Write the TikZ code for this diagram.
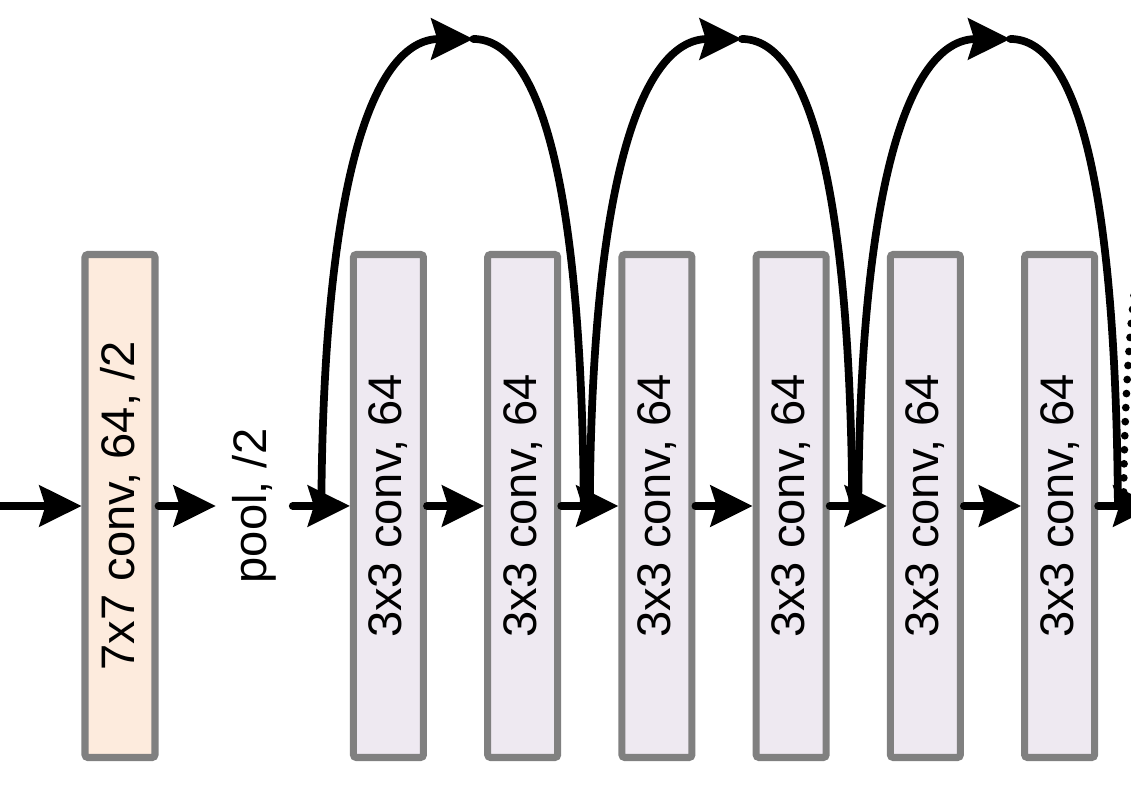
\documentclass[tikz,border=0pt]{standalone}
\usepackage{fontspec}
\setmainfont{Liberation Sans}
\usepackage{xcolor}
\usetikzlibrary{positioning,arrows.meta,calc}
\definecolor{peach}{HTML}{FDEBDD}
\definecolor{lilac}{HTML}{EEE9F1}
\definecolor{rim}{HTML}{808080}

\begin{document}
\begin{tikzpicture}[
  box/.style={draw=rim, line width=5pt, rounded corners=2pt, inner sep=0pt,
    minimum width=1.75cm, minimum height=12.575cm, font=\fontsize{33.5}{40}\selectfont},
  gap/.style={box, draw=none},
  arr/.style={-{Stealth[length=1.05cm, width=1.02cm, inset=0.15cm]}, line width=5.5pt, line cap=round},
  dotlink/.style={line width=5.5pt, line cap=round, dash pattern=on 0pt off 10pt},
  node distance=1.43cm]
\useasboundingbox (0,0) rectangle (28.275,19.95);
\clip (0,0) rectangle (28.275,19.95);
\node[box, fill=peach] (conv7) at (3.0,7.3) {\rotatebox{90}{7x7 conv, 64, /2}};
\node[gap, right=of conv7] (pool) {\rotatebox{90}{pool, /2}};
\node[box, fill=lilac, right=of pool] (b1) {\rotatebox{90}{3x3 conv, 64}};
\node[box, fill=lilac, right=of b1] (b2) {\rotatebox{90}{3x3 conv, 64}};
\node[box, fill=lilac, right=of b2] (b3) {\rotatebox{90}{3x3 conv, 64}};
\node[box, fill=lilac, right=of b3] (b4) {\rotatebox{90}{3x3 conv, 64}};
\node[box, fill=lilac, right=of b4] (b5) {\rotatebox{90}{3x3 conv, 64}};
\node[box, fill=lilac, right=of b5] (b6) {\rotatebox{90}{3x3 conv, 64}};
\coordinate[left=4cm of conv7] (in);
\coordinate[right=of b6] (out);
% shortcut junctions and tops
\coordinate (j0) at ($(pool.east)!0.5!(b1.west)$);
\coordinate (j2) at ($(b2.east)!0.5!(b3.west)$);
\coordinate (j4) at ($(b4.east)!0.5!(b5.west)$);
\coordinate (j6) at ($(b6.east)!0.5!(out)+(-0.08,0)$);
\coordinate (t1) at ($(j0)+(3.8,11.675)$);
\coordinate (t2) at ($(j2)+(3.8,11.675)$);
\coordinate (t3) at ($(j4)+(3.8,11.675)$);
\coordinate (t4) at ($(j6)+(3.8,11.675)$);
\coordinate (e1) at ($(j2)+(-0.15,0)$);
\coordinate (e2) at ($(j4)+(-0.15,0)$);
\coordinate (e3) at ($(j6)+(-0.14,0)$);
\draw[arr] (j0) .. controls +(0.05,8.175) and +(-2.5,0) .. (t1);
\draw[arr, -] (t1) .. controls +(1.75,0) and +(-0.05,7.675) .. (e1);
\draw[arr] (j2) .. controls +(0.05,8.175) and +(-2.5,0) .. (t2);
\draw[arr, -] (t2) .. controls +(1.75,0) and +(-0.05,7.675) .. (e2);
\draw[arr] (j4) .. controls +(0.05,8.175) and +(-2.5,0) .. (t3);
\draw[arr, -] (t3) .. controls +(1.75,0) and +(-0.05,7.675) .. (e3);
\draw[dotlink] (j6) .. controls +(0.05,8.175) and +(-2.5,0) .. (t4);
% main line
\draw[arr] (in) -- (conv7.west);
\draw[arr] (conv7.east) -- (pool.west);
\draw[arr] (pool.east) -- (b1.west);
\draw[arr] (b1.east) -- (b2.west);
\draw[arr] (b2.east) -- (b3.west);
\draw[arr] (b3.east) -- (b4.west);
\draw[arr] (b4.east) -- (b5.west);
\draw[arr] (b5.east) -- (b6.west);
\draw[arr] (b6.east) -- (out);
\end{tikzpicture}
\end{document}
